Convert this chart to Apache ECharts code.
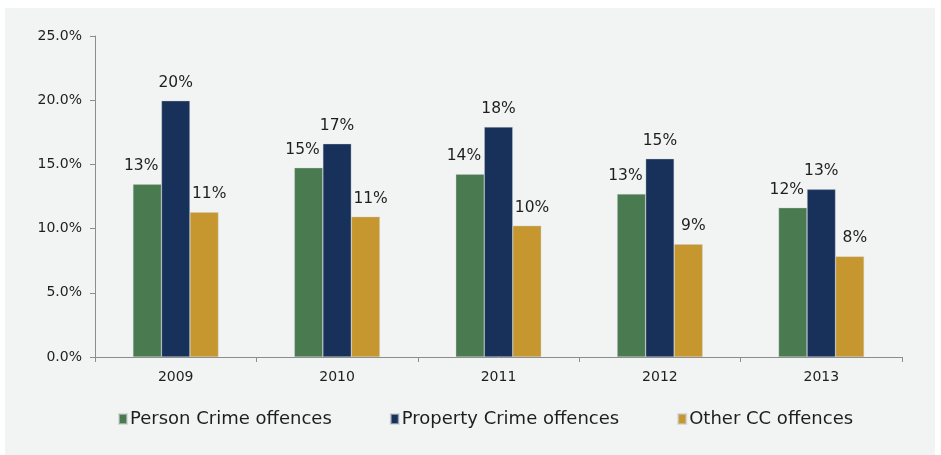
<!DOCTYPE html>
<html>
<head>
<meta charset="utf-8">
<script src="https://cdn.jsdelivr.net/npm/echarts@6/dist/echarts.min.js"></script>
<style>
  html, body { margin: 0; padding: 0; background: #ffffff; }
  #chart { width: 941px; height: 455px; }
</style>
</head>
<body>
<div id="chart"></div>
<script>
// Share of offences by year, per offence group (%)
const years = ['2009', '2010', '2011', '2012', '2013'];
const personCrime = [13.45, 14.74, 14.23, 12.69, 11.63];
const propertyCrime = [19.96, 16.61, 17.91, 15.44, 13.06];
const otherCC = [11.27, 10.93, 10.23, 8.78, 7.84];
const yTicks = [0, 5, 10, 15, 20, 25];

const FONT = '"DejaVu Sans", Verdana, sans-serif';
const TEXT = '#1e1e1e';

function barSeries(name, values, color, dx) {
  return {
    name: name,
    type: 'bar',
    data: values,
    barGap: '0%',
    barCategoryGap: '47%',
    itemStyle: { color: color, borderColor: 'rgba(200,205,210,0.6)', borderWidth: 0.6 },
    label: {
      show: true,
      position: 'top',
      distance: 10,
      offset: [dx, 0],
      fontFamily: FONT,
      fontSize: 15.5,
      color: TEXT,
      formatter: p => Math.round(p.value) + '%'
    }
  };
}

const chart = echarts.init(document.getElementById('chart'), null, { renderer: 'canvas' });
chart.setOption({
  backgroundColor: '#ffffff',
  animation: false,
  graphic: [{
    type: 'rect',
    z: -10,
    shape: { x: 5, y: 8, width: 930, height: 447 },
    style: { fill: '#f2f3f3' }
  }],
  grid: { left: 95, right: 39, top: 36, bottom: 98 },
  legend: {
    bottom: 22,
    left: 113,
    itemWidth: 8,
    itemHeight: 10,
    itemGap: 58,
    icon: 'rect',
    textStyle: { fontFamily: FONT, fontSize: 18, color: TEXT, padding: [0, 0, 0, -2] },
    data: ['Person Crime offences', 'Property Crime offences', 'Other CC offences']
  },
  xAxis: {
    type: 'category',
    data: years,
    boundaryGap: true,
    axisLine: { lineStyle: { color: '#8c8c8c', width: 1 } },
    axisTick: { show: true, alignWithLabel: false, length: 5, lineStyle: { color: '#8c8c8c' } },
    axisLabel: { fontFamily: FONT, fontSize: 14, color: TEXT, margin: 13 }
  },
  yAxis: {
    type: 'value',
    min: yTicks[0],
    max: yTicks[yTicks.length - 1],
    interval: yTicks[1] - yTicks[0],
    axisLine: { show: true, lineStyle: { color: '#8c8c8c', width: 1 } },
    axisTick: { show: true, length: 5, lineStyle: { color: '#8c8c8c' } },
    splitLine: { show: false },
    axisLabel: {
      fontFamily: FONT, fontSize: 14, color: TEXT, margin: 13,
      formatter: v => v.toFixed(1) + '%'
    }
  },
  series: [
    barSeries('Person Crime offences', personCrime, '#4a7a4f', -6),
    barSeries('Property Crime offences', propertyCrime, '#17315a', 0),
    barSeries('Other CC offences', otherCC, '#c6972e', 5)
  ]
});
</script>
</body>
</html>
